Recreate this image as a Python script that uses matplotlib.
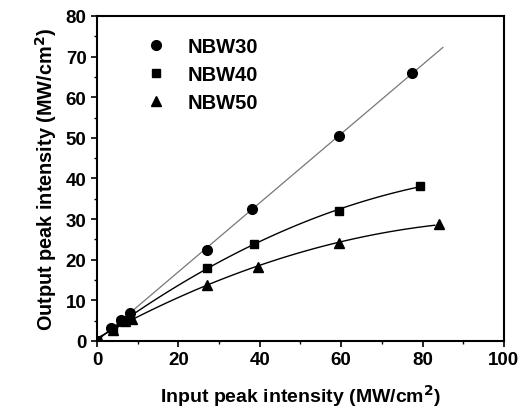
import matplotlib
matplotlib.use("Agg")
import matplotlib.pyplot as plt
import numpy as np
from matplotlib.ticker import MultipleLocator

plt.rcParams["font.family"] = ["Liberation Sans", "DejaVu Sans"]
plt.rcParams["font.weight"] = "bold"

NBW30_X = [0, 3.5, 6, 8, 27, 38, 59.5, 77.5]
NBW30_Y = [0, 3.2, 5.2, 6.8, 22.5, 32.5, 50.5, 66]
NBW40_X = [0, 4, 6, 8, 27, 38.5, 59.5, 79.5]
NBW40_Y = [0, 3.0, 5.0, 6.0, 18, 23.8, 32, 38.2]
NBW50_X = [0, 4, 7, 8.5, 27, 39.5, 59.5, 84]
NBW50_Y = [0, 2.8, 5.0, 5.5, 13.8, 18.2, 24.2, 28.7]

fig = plt.figure(figsize=(5.23, 4.14), dpi=100)
ax = fig.add_axes([0.1855, 0.174, 0.778, 0.785])

# fitted curves
p30 = np.polyfit(NBW30_X, NBW30_Y, 1)
xs = np.linspace(0, 85, 100)
ax.plot(xs, np.polyval(p30, xs), color="#777777", lw=0.9)
p40 = np.polyfit(NBW40_X, NBW40_Y, 2)
xs = np.linspace(0, 79.5, 100)
ax.plot(xs, np.polyval(p40, xs), color="black", lw=1.0)
p50 = np.polyfit(NBW50_X, NBW50_Y, 2)
xs = np.linspace(0, 83, 100)
ax.plot(xs, np.polyval(p50, xs), color="black", lw=1.0)

ax.plot(NBW30_X, NBW30_Y, "o", color="black", ms=7, ls="none", label="NBW30")
ax.plot(NBW40_X, NBW40_Y, "s", color="black", ms=6, ls="none", label="NBW40")
ax.plot(NBW50_X, NBW50_Y, "^", color="black", ms=7, ls="none", label="NBW50")

ax.set_xlim(0, 100)
ax.set_ylim(0, 80)
ax.xaxis.set_major_locator(MultipleLocator(20))
ax.xaxis.set_minor_locator(MultipleLocator(10))
ax.yaxis.set_major_locator(MultipleLocator(10))
ax.yaxis.set_minor_locator(MultipleLocator(5))
ax.tick_params(which="major", direction="out", length=4, width=1.2, labelsize=13.5)
ax.tick_params(which="minor", direction="out", length=2.5, width=1.0)
for s in ax.spines.values():
    s.set_linewidth(1.5)

ax.set_xlabel("Input peak intensity (MW/cm$^\\mathbf{2}$)", fontsize=14, fontweight="bold", labelpad=10)
ax.set_ylabel("Output peak intensity (MW/cm$^\\mathbf{2}$)", fontsize=14.3, fontweight="bold", labelpad=5)

leg = ax.legend(loc="upper left", bbox_to_anchor=(0.075, 0.99), frameon=False,
                fontsize=14.5, handletextpad=1.1, labelspacing=0.45, handlelength=1.0)

fig.savefig("out.png", dpi=100)
